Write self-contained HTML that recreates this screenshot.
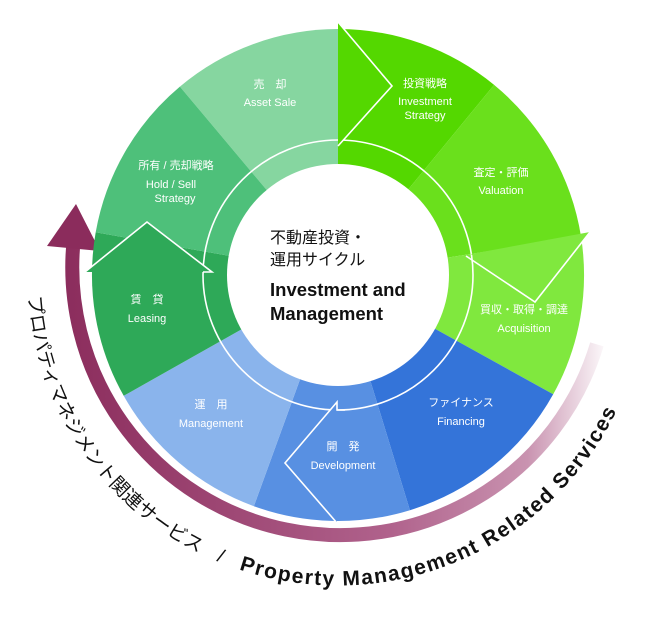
<!DOCTYPE html>
<html><head><meta charset="utf-8"><style>
html,body{margin:0;padding:0;background:#fff;}
svg{display:block;}
.l{font-family:"Liberation Sans","Noto Sans CJK JP",sans-serif;fill:#fff;font-size:11px;text-anchor:middle;}
</style></head><body>
<svg width="650" height="628" viewBox="0 0 650 628" xmlns="http://www.w3.org/2000/svg">
<defs>
<linearGradient id="pg" x1="60" y1="0" x2="610" y2="0" gradientUnits="userSpaceOnUse">
<stop offset="0" stop-color="#8b2c5c"/>
<stop offset="0.6" stop-color="#b0628c"/>
<stop offset="0.85" stop-color="#c993b0"/>
<stop offset="1" stop-color="#ffffff"/>
</linearGradient>
<path id="tp" d="M28.4,296.3 A310,310 0 0 0 625.4,391"/>
</defs>
<path d="M74.1,236 A268,268 0 0 0 596.9,344.4" fill="none" stroke="url(#pg)" stroke-width="14"/>
<polygon points="76,204 47,246 100,251" fill="#8b2c5c"/>
<path d="M338,275 L179.9,86.6 A246,246 0 0 1 338,29 Z" fill="#86d6a0"/>
<path d="M338,275 L338,29 A246,246 0 0 1 494.1,84.9 Z" fill="#54d800"/>
<path d="M338,275 L494.1,84.9 A246,246 0 0 1 581,236.5 Z" fill="#6ae01c"/>
<path d="M338,275 L581,236.5 A246,246 0 0 1 553.2,394.3 Z" fill="#80e83e"/>
<path d="M338,275 L553.2,394.3 A246,246 0 0 1 409.9,510.2 Z" fill="#3474d9"/>
<path d="M338,275 L409.9,510.2 A246,246 0 0 1 253.9,506.2 Z" fill="#5890e2"/>
<path d="M338,275 L253.9,506.2 A246,246 0 0 1 123.7,395.8 Z" fill="#8ab4ec"/>
<path d="M338,275 L123.7,395.8 A246,246 0 0 1 95.7,232.3 Z" fill="#2ea958"/>
<path d="M338,275 L95.7,232.3 A246,246 0 0 1 179.9,86.6 Z" fill="#4ec07a"/>
<circle cx="338" cy="275" r="111" fill="#fff"/>
<circle cx="338" cy="275" r="135" fill="none" stroke="#fff" stroke-width="1.6"/>
<polygon points="338,22 392,86 338,146" fill="#54d800"/>
<polyline points="338,22 392,86 338,146" fill="none" stroke="#fff" stroke-width="1.6"/>
<polygon points="471,254 535,302 590,232" fill="#80e83e"/>
<polyline points="466,256 535,302 590,232" fill="none" stroke="#fff" stroke-width="1.6"/>
<polygon points="85,272 147,222 212,272" fill="#2ea958"/>
<polyline points="85,272 147,222 212,272 203,272" fill="none" stroke="#fff" stroke-width="1.6"/>
<polygon points="337,402 285,463 337,523" fill="#5890e2"/>
<polyline points="345,410 337,410 337,402 285,463 337,523" fill="none" stroke="#fff" stroke-width="1.6"/>
<text class="l" x="270" y="88" font-size="12">売　却</text>
<text class="l" x="270" y="106">Asset Sale</text>
<text class="l" x="425" y="87" font-size="12">投資戦略</text>
<text class="l" x="425" y="105">Investment</text>
<text class="l" x="425" y="119">Strategy</text>
<text class="l" x="501" y="176" font-size="12">査定・評価</text>
<text class="l" x="501" y="194">Valuation</text>
<text class="l" x="176" y="169" font-size="12">所有 / 売却戦略</text>
<text class="l" x="171" y="188">Hold / Sell</text>
<text class="l" x="175" y="202">Strategy</text>
<text class="l" x="147" y="303" font-size="12">賃　貸</text>
<text class="l" x="147" y="322">Leasing</text>
<text class="l" x="524" y="313" font-size="12">買収・取得・調達</text>
<text class="l" x="524" y="332">Acquisition</text>
<text class="l" x="211" y="408" font-size="12">運　用</text>
<text class="l" x="211" y="427">Management</text>
<text class="l" x="343" y="450" font-size="12">開　発</text>
<text class="l" x="343" y="469">Development</text>
<text class="l" x="461" y="406" font-size="12">ファイナンス</text>
<text class="l" x="461" y="425">Financing</text>
<g fill="#111">
<text x="270" y="243" font-size="16" font-family="Liberation Sans, Noto Sans CJK JP, sans-serif">不動産投資・</text>
<text x="270" y="265" font-size="16" font-family="Liberation Sans, Noto Sans CJK JP, sans-serif">運用サイクル</text>
<text x="270" y="296" font-size="18.5" font-weight="bold" font-family="Liberation Sans, sans-serif">Investment and</text>
<text x="270" y="320" font-size="18.5" font-weight="bold" font-family="Liberation Sans, sans-serif">Management</text>
</g>
<text font-family="Liberation Sans, Noto Sans CJK JP, sans-serif" font-size="19" fill="#111">
<textPath href="#tp">プロパティマネジメント関連サービス　/　<tspan font-weight="bold" font-size="21" letter-spacing="1.5">Property Management Related Services</tspan></textPath>
</text>
</svg>
</body></html>
